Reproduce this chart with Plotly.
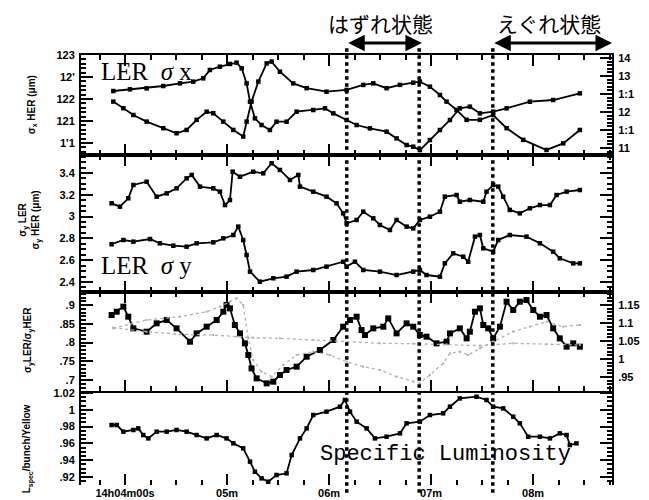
import plotly.graph_objects as go

# ---------------- data (time in seconds after 14h00m) ----------------
# Panel 1: sigma_x
t_ler_x = [233.1, 242.9, 252.7, 262.5, 272.3, 280.1, 286.0, 289.9, 295.8, 301.7, 305.6, 308.6, 311.5, 313.5, 316.4, 320.3,
           325.2, 329.1, 335.0, 340.9, 350.7, 357.6, 362.5, 370.3, 376.2, 384.0, 393.8, 399.7, 405.6, 409.5, 413.4, 419.3,
           425.2, 431.1, 436.9, 442.8, 448.7, 456.5, 464.4, 478.1, 491.8, 507.5]
ler_x = [130.83, 131.30, 131.57, 132.22, 132.96, 133.43, 134.35, 136.67, 137.59, 138.33, 138.70, 137.13, 132.96, 127.87,
         123.24, 121.39, 120.00, 122.31, 122.31, 125.09, 125.55, 126.02, 124.63, 122.78, 121.39, 120.46, 119.54, 117.68,
         115.83, 115.37, 114.44, 117.22, 120.00, 122.78, 126.02, 126.48, 124.63, 125.09, 126.02, 127.87, 128.33, 130.18]

t_her_x = [233.1, 239.0, 244.9, 252.7, 262.5, 270.3, 276.2, 282.1, 288.0, 291.9, 297.8, 303.7, 309.5, 311.5, 314.4, 318.4,
           323.3, 326.2, 331.1, 338.9, 346.8, 358.5, 370.3, 380.1, 386.0, 393.8, 401.7, 409.5, 413.4, 419.3, 425.2, 429.1,
           435.0, 440.9, 448.7, 456.5, 464.4, 474.2, 487.9, 497.7, 507.5]
her_x = [120.88, 120.58, 120.27, 119.97, 119.67, 119.44, 119.59, 120.05, 120.42, 120.35, 119.97, 119.59, 119.29, 119.97,
         120.88, 121.79, 122.62, 122.70, 122.24, 121.71, 121.49, 121.33, 121.41, 121.64, 121.71, 121.49, 121.64, 121.74,
         121.79, 121.56, 121.18, 120.88, 120.50, 120.05, 120.05, 120.27, 119.67, 119.14, 118.68, 118.98, 119.59]

# Panel 2: sigma_y
t_her_y = [232.1, 237.0, 241.9, 244.9, 252.7, 258.6, 264.5, 270.3, 276.2, 279.2, 284.1, 291.9, 295.8, 298.8, 301.7, 303.3,
           307.6, 315.4, 321.3, 326.2, 331.1, 337.0, 341.9, 342.9, 350.7, 358.5, 364.4, 368.3, 370.3, 376.2, 380.1, 386.0,
           389.9, 395.8, 399.7, 405.6, 409.5, 413.4, 419.3, 425.2, 428.1, 435.0, 436.9, 442.8, 450.7, 452.6, 456.5, 459.5,
           462.4, 466.3, 472.2, 478.1, 484.0, 489.9, 493.8, 499.7, 507.5]
her_y = [3.122, 3.091, 3.168, 3.290, 3.320, 3.183, 3.213, 3.259, 3.351, 3.382, 3.275, 3.259, 3.229, 3.106, 3.152, 3.412,
         3.366, 3.412, 3.397, 3.489, 3.428, 3.336, 3.382, 3.275, 3.229, 3.183, 3.122, 3.030, 2.938, 2.969, 3.045, 2.984,
         2.923, 2.877, 2.969, 2.908, 2.892, 2.969, 2.999, 3.045, 3.183, 3.198, 3.137, 3.152, 3.137, 3.229, 3.290, 3.275,
         3.183, 3.061, 3.030, 3.076, 3.106, 3.106, 3.198, 3.229, 3.244]

t_ler_y = [232.1, 239.0, 244.9, 254.7, 260.5, 268.4, 276.2, 282.1, 291.9, 297.8, 303.7, 306.6, 309.5, 311.5, 313.5, 319.3,
           327.2, 335.0, 340.9, 350.7, 358.5, 368.3, 370.3, 375.2, 380.1, 389.9, 399.7, 409.5, 413.4, 417.3, 425.2, 428.1,
           433.0, 438.9, 441.8, 445.8, 448.7, 450.7, 456.5, 459.5, 466.3, 476.1, 484.0, 491.8, 495.7, 503.6, 507.5]
ler_y = [2.746, 2.785, 2.770, 2.794, 2.755, 2.733, 2.724, 2.755, 2.764, 2.801, 2.831, 2.908, 2.785, 2.648, 2.495, 2.403,
         2.434, 2.449, 2.495, 2.510, 2.541, 2.586, 2.541, 2.586, 2.510, 2.495, 2.464, 2.495, 2.510, 2.464, 2.449, 2.571,
         2.663, 2.632, 2.586, 2.816, 2.831, 2.709, 2.678, 2.785, 2.831, 2.816, 2.755, 2.678, 2.617, 2.571, 2.571]

# Panel 3: sigma_y ratio and two faint reference traces
t_ratio = [232.1, 235.1, 239.0, 241.9, 244.9, 252.7, 258.6, 264.5, 270.3, 278.2, 282.1, 288.0, 293.9, 297.8, 299.7, 301.7,
           304.6, 307.6, 310.5, 312.5, 314.4, 317.4, 323.3, 327.2, 331.1, 335.0, 340.9, 346.8, 354.6, 362.5, 368.3, 372.3,
           376.2, 379.1, 381.1, 386.0, 391.9, 394.8, 399.7, 405.6, 409.5, 413.4, 417.3, 423.2, 429.1, 431.1, 436.9, 440.9,
           442.8, 445.8, 448.7, 450.7, 453.6, 456.5, 460.5, 464.4, 468.3, 472.2, 476.1, 480.1, 484.0, 487.9, 491.8, 495.7,
           499.7, 503.6, 507.5]
ratio = [0.8733, 0.8822, 0.8956, 0.8689, 0.8378, 0.8289, 0.8511, 0.8600, 0.8378, 0.8022, 0.8244, 0.8422, 0.8600, 0.8822,
         0.9000, 0.8911, 0.8467, 0.8244, 0.7978, 0.7667, 0.7311, 0.7044, 0.6911, 0.6956, 0.7133, 0.7267, 0.7356, 0.7622,
         0.7800, 0.8067, 0.8422, 0.8600, 0.8689, 0.8333, 0.8200, 0.8378, 0.8422, 0.8644, 0.8244, 0.8511, 0.8422, 0.8200,
         0.8156, 0.7978, 0.8022, 0.8244, 0.8378, 0.8111, 0.8289, 0.8822, 0.8911, 0.8467, 0.8378, 0.8111, 0.8422, 0.9089,
         0.8867, 0.9089, 0.9133, 0.8867, 0.8689, 0.8733, 0.8378, 0.8111, 0.7889, 0.7978, 0.7889]

t_ref1 = [233.1, 252.7, 272.3, 288.0, 295.8, 301.7, 305.6, 309.5, 312.5, 315.4, 320.3, 326.2, 333.1, 340.9, 350.7, 360.5,
          370.3, 380.1, 389.9, 399.7, 409.5, 413.4, 419.3, 427.1, 431.1, 436.9, 441.8, 448.7, 456.5, 468.3, 478.1, 487.9,
          497.7, 507.5]
ref1 = [1.0852, 1.1084, 1.1176, 1.1315, 1.1454, 1.1593, 1.1686, 1.1500, 1.0574, 0.9972, 0.9648, 0.9509, 0.9834, 1.0111,
        1.0204, 1.0111, 0.9926, 0.9787, 0.9695, 0.9509, 0.9371, 0.9324, 0.9556, 0.9880, 1.0158, 1.0204, 1.0111, 1.0297,
        1.0482, 1.0760, 1.0899, 1.1037, 1.0899, 1.0945]

t_ref2 = [233.1, 252.7, 272.3, 291.9, 305.6, 315.4, 331.1, 350.7, 370.3, 389.9, 409.5, 429.1, 448.7, 468.3, 487.9, 507.5]
ref2 = [1.0871, 1.0760, 1.0686, 1.0667, 1.0621, 1.0593, 1.0574, 1.0528, 1.0463, 1.0436, 1.0426, 1.0408, 1.0371, 1.0436,
        1.0408, 1.0389]

# Panel 4: specific luminosity
t_lum = [232.1, 235.1, 239.0, 244.9, 247.8, 250.7, 253.7, 258.6, 264.5, 270.3, 276.2, 282.1, 288.0, 293.9, 299.7, 303.7,
         309.5, 313.5, 316.4, 320.3, 324.2, 329.1, 335.0, 338.0, 342.9, 346.8, 350.7, 358.5, 366.4, 369.3, 372.3, 376.2,
         382.1, 387.0, 393.8, 401.7, 405.6, 413.4, 419.3, 427.1, 431.1, 436.9, 446.7, 452.6, 456.5, 462.4, 468.3, 472.2,
         477.1, 484.0, 489.9, 495.7, 499.7, 501.6, 505.5]
lum = [0.9819, 0.9819, 0.9740, 0.9760, 0.9779, 0.9700, 0.9660, 0.9740, 0.9740, 0.9760, 0.9740, 0.9700, 0.9660, 0.9700,
       0.9660, 0.9601, 0.9541, 0.9383, 0.9263, 0.9184, 0.9144, 0.9224, 0.9244, 0.9462, 0.9660, 0.9779, 0.9938, 0.9978,
       1.0037, 1.0117, 0.9978, 0.9859, 0.9779, 0.9660, 0.9680, 0.9720, 0.9839, 0.9859, 0.9938, 0.9958, 1.0037, 1.0136,
       1.0156, 1.0117, 1.0037, 1.0017, 0.9918, 0.9839, 0.9680, 0.9680, 0.9660, 0.9720, 0.9700, 0.9581, 0.9601]

# axis ticks / labels
x_tickvals = [240, 300, 360, 420, 480]
x_ticktext = ["14h04m00s", "05m", "06m", "07m", "08m"]
p1L_vals = [123, 122, 121, 120, 119]
p1L_text = ["123", "12'", "122", "121", "1'1"]
p1R_vals = [140, 135, 130, 125, 120, 115]
p1R_text = ["14", "13", "1:1", "12", "1:1", "11"]
p2_vals = [3.4, 3.2, 3.0, 2.8, 2.6, 2.4]
p2_text = ["3.4", "3.2", "3", "2.8", "2.6", "2.4"]
p3L_vals = [0.9, 0.85, 0.8, 0.75, 0.7]
p3L_text = [".9", ".85", ".8", ".75", ".7"]
p3R_vals = [1.15, 1.1, 1.05, 1.0, 0.95]
p3R_text = ["1.15", "1.1", "1.05", "1", ".95"]
p4_vals = [1.02, 1.0, 0.98, 0.96, 0.94, 0.92]
p4_text = ["1.02", "1", ".98", ".96", ".94", ".92"]
events = [370.4, 413.0, 456.3]

# ---------------- figure ----------------
fig = go.Figure()


def series(x, y, xa, ya, size=4.5, color="black", mode="lines+markers", line=None):
    fig.add_trace(go.Scatter(x=x, y=y, xaxis=xa, yaxis=ya, mode=mode,
                             line=line or dict(color=color, width=1.8),
                             marker=dict(symbol="square", size=size, color=color),
                             showlegend=False, hoverinfo="skip"))


series(t_her_x, her_x, "x", "y")
series(t_ler_x, ler_x, "x", "y5")
series(t_her_y, her_y, "x2", "y2")
series(t_ler_y, ler_y, "x2", "y2")
series(t_ref1, ref1, "x3", "y6", size=2, color="#b0b0b0", line=dict(color="#b0b0b0", width=1.3, dash="dot"))
series(t_ref2, ref2, "x3", "y6", size=2, color="#b0b0b0", line=dict(color="#b0b0b0", width=1.3, dash="dot"))
series(t_ratio, ratio, "x3", "y3", size=6)
series(t_lum, lum, "x4", "y4")

tickfont = dict(family="Liberation Sans", size=11, color="black", weight="bold")
xr = [214.1, 526.4]
common_x = dict(range=xr, tickmode="array", tickvals=x_tickvals, ticktext=x_ticktext, automargin=False,
                ticks="inside", ticklen=11, tickwidth=1.5, tickcolor="black",
                minor=dict(tickmode="linear", tick0=0, dtick=15, ticks="inside", ticklen=5, tickcolor="black"),
                showgrid=False, zeroline=False, linecolor="black", linewidth=2, tickfont=tickfont)


def yax(domain, rng, vals, text, minor_dt, anchor="x", mirror=False, side="left", overlaying=None):
    d = dict(range=rng, tickmode="array", tickvals=vals, ticktext=text, ticks="inside", ticklen=12,
             tickwidth=1.5, tickcolor="black", automargin=False,
             minor=dict(tickmode="linear", tick0=0, dtick=minor_dt, ticks="inside", ticklen=5, tickcolor="black"),
             showline=True, linecolor="black", linewidth=2, mirror=mirror, showgrid=False, zeroline=False,
             anchor=anchor, side=side, tickfont=tickfont, ticklabelstandoff=2)
    if overlaying:
        d["overlaying"] = overlaying
    else:
        d["domain"] = domain
    return d


D1 = [0.7674, 1.0]
D2 = [0.4488, 0.7674]
D3 = [0.2186, 0.4488]
D4 = [0.0, 0.2186]

# the page body adds an 8px offset, so the figure is 8px smaller and margins shifted
fig.update_layout(
    width=641, height=492,
    margin=dict(l=73, r=37, t=47, b=15, autoexpand=False),
    paper_bgcolor="white", plot_bgcolor="white",
    xaxis=dict(common_x, domain=[0, 1], anchor="y", showline=True, mirror="ticks", showticklabels=False),
    xaxis2=dict(common_x, domain=[0, 1], anchor="y2", matches="x", showline=True, mirror="ticks", showticklabels=False),
    xaxis3=dict(common_x, domain=[0, 1], anchor="y3", matches="x", showline=True, mirror="ticks", showticklabels=False),
    xaxis4=dict(common_x, domain=[0, 1], anchor="y4", matches="x", showline=False, mirror=False, showticklabels=True),
    yaxis=yax(D1, [118.45, 123.0], p1L_vals, p1L_text, 0.2),
    yaxis5=yax(None, [113.06, 140.83], p1R_vals, p1R_text, 1, side="right", overlaying="y"),
    yaxis2=yax(D2, [2.308, 3.565], p2_vals, p2_text, 0.05, anchor="x2", mirror="ticks"),
    yaxis3=yax(D3, [0.6707, 0.9347], p3L_vals, p3L_text, 0.01, anchor="x3"),
    yaxis6=yax(None, [0.9111, 1.1861], p3R_vals, p3R_text, 0.01, anchor="x3", side="right", overlaying="y3"),
    yaxis4=yax(D4, [0.9105, 1.0224], p4_vals, p4_text, 0.005, anchor="x4", mirror="ticks"),
)

# dotted event lines
for ev in events:
    fig.add_shape(type="line", xref="x", yref="paper", x0=ev, x1=ev, y0=-0.018, y1=1.016,
                  line=dict(color="black", width=3.5, dash="dot"))

# double-headed arrows
for a, b in [(events[0], 414.6), (events[2], 526.4)]:
    fig.add_annotation(x=b, y=1.028, xref="x", yref="paper", ax=a, ay=0, axref="x", ayref="pixel",
                       text="", showarrow=True, arrowhead=2, arrowsize=1.1, arrowwidth=3, arrowside="end+start",
                       arrowcolor="black")

C = dict(xanchor="center", yanchor="middle", showarrow=False, xref="paper", yref="paper")
jp = dict(family="Noto Sans CJK JP", size=21, color="black")
fig.add_annotation(x=0.5631, y=1.0745, text="はずれ状態", font=jp, **C)
fig.add_annotation(x=0.8814, y=1.0745, text="えぐれ状態", font=jp, **C)

L = dict(xanchor="left", yanchor="middle", showarrow=False, xref="paper", yref="paper")
serif = dict(family="Liberation Serif", size=25, color="black")
fig.add_annotation(x=0.034, y=0.9605, text="LER  <i>σ</i> x", font=serif, **L)
fig.add_annotation(x=0.034, y=0.5116, text="LER  <i>σ</i> y", font=serif, **L)
fig.add_annotation(x=0.4463, y=0.0698, text="Specific Luminosity",
                   font=dict(family="Liberation Mono", size=22, color="black"), **L)

ttl = dict(family="Liberation Sans", size=10, color="black", weight="bold")
fig.add_annotation(x=-0.092, y=0.8837, text="σ<sub>x</sub> HER (μm)", textangle=-90, font=ttl, **C)
fig.add_annotation(x=-0.097, y=0.6163, text="σ<sub>y</sub> LER<br>σ<sub>y</sub> HER (μm)", textangle=-90,
                   font=ttl, **C)
fig.add_annotation(x=-0.100, y=0.3372, text="σ<sub>y</sub>LER/σ<sub>y</sub>HER", textangle=-90, font=ttl, **C)
fig.add_annotation(x=-0.100, y=0.085, text="L<sub>spec</sub>/bunch/Yellow", textangle=-90, font=ttl, **C)

fig.write_html("out.html")
